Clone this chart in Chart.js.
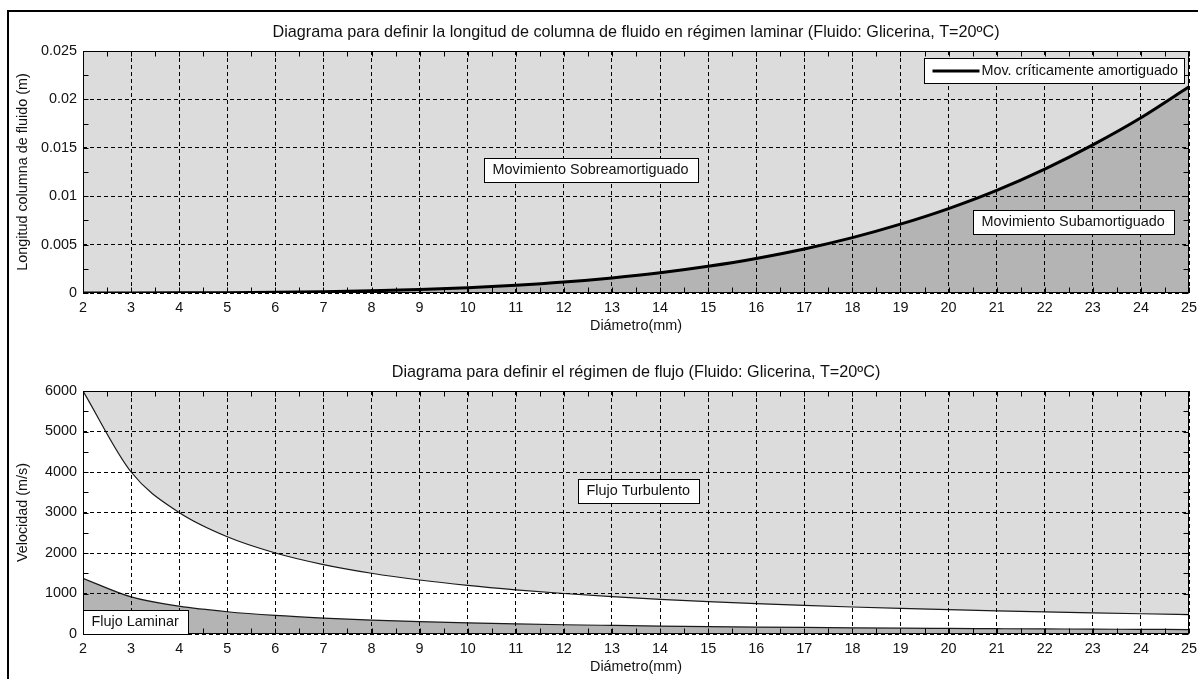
<!DOCTYPE html>
<html>
<head>
<meta charset="utf-8">
<script src="https://cdn.jsdelivr.net/npm/chart.js@4.4.1/dist/chart.umd.min.js"></script>
<style>
  html, body { margin: 0; padding: 0; background: #fff; }
  body { width: 1198px; height: 679px; position: relative; overflow: hidden; }
  #frame { position: absolute; left: 7px; top: 10px; width: 1300px; height: 800px; border-left: 2px solid #000; border-top: 2px solid #000; }
  .panel { position: absolute; left: 0; width: 1198px; }
  #panelTop { top: 0; height: 340px; }
  #panelBottom { top: 340px; height: 339px; }
</style>
</head>
<body>
<div id="frame"></div>
<div class="panel" id="panelTop"><canvas id="chartTop"></canvas></div>
<div class="panel" id="panelBottom"><canvas id="chartBottom"></canvas></div>
<script>
// valores (diametro en mm)
const diametros = [2, 3, 4, 5, 6, 7, 8, 9, 10, 11, 12, 13, 14, 15, 16, 17, 18, 19, 20, 21, 22, 23, 24, 25]
const xLabels = ['2', '3', '4', '5', '6', '7', '8', '9', '10', '11', '12', '13', '14', '15', '16', '17', '18', '19', '20', '21', '22', '23', '24', '25']

// longitud critica de columna (m)
const longitudCritica = [0.000001, 0.0000044, 0.000014, 0.000034, 0.000071, 0.000131, 0.000223, 0.000358,
  0.000545, 0.000798, 0.00113, 0.00156, 0.00209, 0.00276, 0.00357, 0.00455,
  0.00572, 0.00711, 0.00872, 0.0106, 0.0128, 0.0153, 0.0181, 0.0213]
const yTicksLongitud = [0, 0.005, 0.01, 0.015, 0.02, 0.025]
const yLabelsLongitud = ['0', '0.005', '0.01', '0.015', '0.02', '0.025']

// velocidades limite (m/s)
const velocidadTurbulenta = [6000, 4000, 3000, 2400, 2000, 1714, 1500, 1333, 1200, 1091, 1000, 923,
  857, 800, 750, 706, 667, 632, 600, 571, 545, 522, 500, 480]
const velocidadLaminar = [1375, 917, 688, 550, 458, 393, 344, 306, 275, 250, 229, 212,
  196, 183, 172, 162, 153, 145, 138, 131, 125, 120, 115, 110]
const yTicksVelocidad = [0, 1000, 2000, 3000, 4000, 5000, 6000]
const yLabelsVelocidad = ['0', '1000', '2000', '3000', '4000', '5000', '6000']

// cuadros de texto (x = borde izquierdo, y = centro, en unidades de datos)
const textosLongitud = [
  { texto: 'Movimiento Sobreamortiguado', x: 10.33, y: 0.0127 },
  { texto: 'Movimiento Subamortiguado', x: 20.5, y: 0.0073 }
]
const textosVelocidad = [
  { texto: 'Flujo Turbulento', x: 12.29, y: 3520 },
  { texto: 'Flujo Laminar', x: 2, y: 298 }
]

const FUENTE = "'Liberation Sans', Arial, sans-serif"
const TEXTO = '#111'
Chart.defaults.font.family = FUENTE
Chart.defaults.font.size = 14.4
Chart.defaults.color = TEXTO

const puntos = (ys) => diametros.map((d, i) => ({ x: d, y: ys[i] }))

/**
 * Midpoints between major ticks (minor ticks).
 */
function menores (arr) {
  const out = []
  for (let i = 0; i < arr.length - 1; i++) out.push((arr[i] + arr[i + 1]) / 2)
  return out
}

/**
 * Plot background, inward ticks, box, text boxes and legend.
 */
function marco (textos, yTicks, conLeyenda) {
  return {
    id: 'marco',
    beforeDraw (chart) {
      const { ctx, chartArea: a } = chart
      ctx.save()
      ctx.fillStyle = '#dcdcdc'
      ctx.fillRect(a.left, a.top, a.right - a.left, a.bottom - a.top)
      ctx.restore()
    },
    afterDraw (chart) {
      const { ctx, chartArea: a, scales } = chart
      const sx = scales.x
      const sy = scales.y
      const L = Math.round(a.left) + 0.5
      const R = Math.round(a.right) - 0.5
      const T = Math.round(a.top) + 0.5
      const B = Math.round(a.bottom) - 0.5
      const len = 5
      ctx.save()
      ctx.strokeStyle = '#000'
      ctx.lineWidth = 1
      ctx.beginPath()
      for (const v of diametros.concat(menores(diametros))) {
        const px = Math.round(sx.getPixelForValue(v)) + 0.5
        ctx.moveTo(px, B); ctx.lineTo(px, B - len)
        ctx.moveTo(px, T); ctx.lineTo(px, T + len)
      }
      for (const v of yTicks.concat(menores(yTicks))) {
        const py = Math.round(sy.getPixelForValue(v)) + 0.5
        ctx.moveTo(L, py); ctx.lineTo(L + len, py)
        ctx.moveTo(R, py); ctx.lineTo(R - len, py)
      }
      ctx.stroke()
      ctx.strokeRect(L, T, R - L, B - T)

      ctx.font = `14.4px ${FUENTE}`
      ctx.textBaseline = 'middle'
      const h = 24
      for (const t of textos) {
        const w = Math.round(ctx.measureText(t.texto).width + 18)
        const x = Math.round(sx.getPixelForValue(t.x)) + 0.5
        const y = Math.round(sy.getPixelForValue(t.y) - h / 2) + 0.5
        ctx.fillStyle = '#fff'
        ctx.fillRect(x, y, w, h)
        ctx.strokeStyle = '#000'
        ctx.strokeRect(x, y, w, h)
        ctx.fillStyle = TEXTO
        ctx.fillText(t.texto, x + 8, y + h / 2)
      }

      if (conLeyenda) {
        const ds = chart.data.datasets[0]
        const tw = ctx.measureText(ds.label).width
        const w = Math.round(8 + 47 + 2 + tw + 7)
        const lh = 25
        const x = Math.round(a.right - 5 - w) + 0.5
        const y = Math.round(a.top + 7) + 0.5
        ctx.fillStyle = '#fff'
        ctx.fillRect(x, y, w, lh)
        ctx.strokeStyle = '#000'
        ctx.lineWidth = 1
        ctx.strokeRect(x, y, w, lh)
        ctx.beginPath()
        ctx.lineWidth = 3
        ctx.moveTo(x + 8, y + lh / 2)
        ctx.lineTo(x + 55, y + lh / 2)
        ctx.stroke()
        ctx.fillStyle = TEXTO
        ctx.fillText(ds.label, x + 57, y + lh / 2)
      }
      ctx.restore()
    }
  }
}

/**
 * Builds one of the two panels.
 */
function crearGrafico (id, cfg) {
  return new Chart(document.getElementById(id), {
    type: 'line',
    data: { datasets: cfg.datasets },
    options: {
      responsive: true,
      maintainAspectRatio: false,
      animation: false,
      events: [],
      layout: { padding: { left: 0, right: 9, top: 0, bottom: 0 } },
      plugins: {
        legend: { display: false },
        tooltip: { enabled: false },
        title: {
          display: true,
          text: cfg.titulo,
          fullSize: false,
          color: TEXTO,
          font: { size: 16.2, weight: 'normal', lineHeight: '18px' },
          padding: { top: 24, bottom: 9 }
        }
      },
      scales: {
        x: {
          type: 'linear',
          min: 2,
          max: 25,
          afterBuildTicks: (s) => { s.ticks = diametros.map(v => ({ value: v })) },
          afterFit: (s) => { s.height = cfg.xAlto; s.paddingLeft = 0; s.paddingRight = 0 },
          ticks: { autoSkip: false, maxRotation: 0, padding: 6, callback: (v, i) => xLabels[i] },
          grid: { z: 1, color: '#000', lineWidth: 1, drawTicks: false },
          border: { display: false, dash: [4, 3] },
          title: { display: true, text: 'Diámetro(mm)', padding: { top: 0, bottom: cfg.xTituloPad } }
        },
        y: {
          type: 'linear',
          min: 0,
          max: cfg.yTicks[cfg.yTicks.length - 1],
          afterBuildTicks: (s) => { s.ticks = cfg.yTicks.map(v => ({ value: v })) },
          afterFit: (s) => { s.width = 83; s.paddingTop = 0; s.paddingBottom = 0 },
          ticks: { padding: 6, callback: (v, i) => cfg.yLabels[i] },
          grid: { z: 1, color: '#000', lineWidth: 1, drawTicks: false },
          border: { display: false, dash: [4, 3] },
          title: { display: true, text: cfg.tituloY, padding: { top: 14, bottom: 0 } }
        }
      }
    },
    plugins: [marco(cfg.textos, cfg.yTicks, cfg.leyenda)]
  })
}

crearGrafico('chartTop', {
  titulo: 'Diagrama para definir la longitud de columna de fluido en régimen laminar (Fluido: Glicerina, T=20ºC)',
  tituloY: 'Longitud columna de fluido (m)',
  yTicks: yTicksLongitud,
  yLabels: yLabelsLongitud,
  xAlto: 47,
  xTituloPad: 5,
  textos: textosLongitud,
  leyenda: true,
  datasets: [{
    label: 'Mov. críticamente amortiguado',
    data: puntos(longitudCritica),
    borderColor: '#000',
    borderWidth: 3,
    pointRadius: 0,
    cubicInterpolationMode: 'monotone',
    fill: 'origin',
    backgroundColor: '#b4b4b4'
  }]
})

crearGrafico('chartBottom', {
  titulo: 'Diagrama para definir el régimen de flujo (Fluido: Glicerina, T=20ºC)',
  tituloY: 'Velocidad (m/s)',
  yTicks: yTicksVelocidad,
  yLabels: yLabelsVelocidad,
  xAlto: 45,
  xTituloPad: 3,
  textos: textosVelocidad,
  leyenda: false,
  datasets: [{
    label: 'Limite laminar',
    data: puntos(velocidadLaminar),
    borderColor: '#1a1a1a',
    borderWidth: 1.2,
    pointRadius: 0,
    cubicInterpolationMode: 'monotone',
    fill: 'origin',
    backgroundColor: '#b4b4b4'
  }, {
    label: 'Limite turbulento',
    data: puntos(velocidadTurbulenta),
    borderColor: '#1a1a1a',
    borderWidth: 1.2,
    pointRadius: 0,
    cubicInterpolationMode: 'monotone',
    fill: 'origin',
    backgroundColor: '#ffffff'
  }]
})
</script>
</body>
</html>
